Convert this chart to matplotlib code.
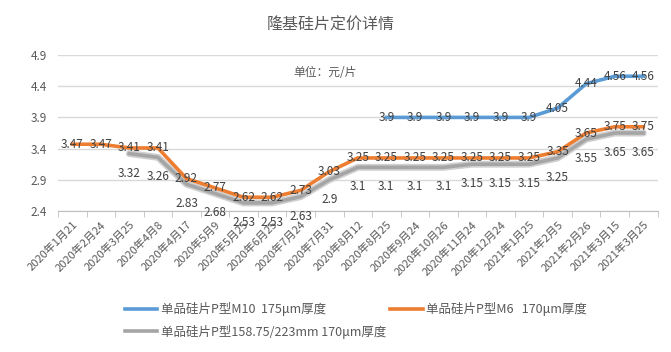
import matplotlib.pyplot as plt
import numpy as np

plt.rcParams['font.family'] = ['Noto Sans CJK SC', 'DejaVu Sans']

# data
dates = ['2020年1月21', '2020年2月24', '2020年3月25', '2020年4月8', '2020年4月17',
         '2020年5月9', '2020年5月25', '2020年6月25', '2020年7月24', '2020年7月31',
         '2020年8月12', '2020年8月25', '2020年9月24', '2020年10月26', '2020年11月24',
         '2020年12月24', '2021年1月25', '2021年2月5', '2021年2月26', '2021年3月15',
         '2021年3月25']
m10 = [None] * 11 + [3.9, 3.9, 3.9, 3.9, 3.9, 3.9, 4.05, 4.44, 4.56, 4.56]
m6 = [3.47, 3.47, 3.41, 3.41, 2.92, 2.77, 2.62, 2.62, 2.73, 3.03, 3.25,
      3.25, 3.25, 3.25, 3.25, 3.25, 3.25, 3.35, 3.65, 3.75, 3.75]
g1 = [None] * 2 + [3.32, 3.26, 2.83, 2.68, 2.53, 2.53, 2.63, 2.9, 3.1,
                   3.1, 3.1, 3.1, 3.15, 3.15, 3.15, 3.25, 3.55, 3.65, 3.65]

names = ['单品硅片P型M10  175μm厚度', '单品硅片P型M6   170μm厚度',
         '单品硅片P型158.75/223mm 170μm厚度']
colors = ['#5B9BD5', '#ED7D31', '#A5A5A5']

fig = plt.figure(figsize=(6.71, 3.52), dpi=100)
ax = fig.add_axes([0.0864, 0.4006, 0.8936, 0.4431])

x = np.arange(len(dates))

def series(vals):
    xs = [i for i, v in enumerate(vals) if v is not None]
    ys = [v for v in vals if v is not None]
    return xs, ys

# gray line with soft shadow
gx, gy = series(g1)
ax.plot(gx, gy, color='#d0d0d0', lw=5, solid_capstyle='round', zorder=2)
ax.plot(gx, gy, color=colors[2], lw=2.6, zorder=3, label=names[2])
ox, oy = series(m6)
ax.plot(ox, oy, color=colors[1], lw=2.6, zorder=4, label=names[1])
bx, by = series(m10)
ax.plot(bx, by, color=colors[0], lw=2.6, zorder=4, label=names[0])

lab = dict(fontsize=8.5, color='#404040', ha='center', zorder=6)
for xi, v in zip(bx, by):
    ax.text(xi, v, f'{v:g}', va='center', **lab)
for xi, v in zip(ox, oy):
    ax.text(xi, v, f'{v:g}', va='center', **lab)
for xi, v in zip(gx, gy):
    ax.annotate(f'{v:g}', (xi, v), xytext=(0, -14), textcoords='offset points',
                va='center', annotation_clip=False, **lab)

ax.set_xlim(-0.5, len(dates) - 0.5)
ax.set_ylim(2.4, 4.9)
ax.set_yticks([2.4, 2.9, 3.4, 3.9, 4.4, 4.9])
ax.set_yticklabels(['2.4', '2.9', '3.4', '3.9', '4.4', '4.9'])
ax.yaxis.grid(True, color='#d9d9d9', lw=1)
ax.set_axisbelow(True)
for s in ['left', 'right', 'top']:
    ax.spines[s].set_visible(False)
ax.spines['bottom'].set_color('#bfbfbf')
ax.tick_params(axis='y', length=0, labelsize=8.5, labelcolor='#595959', pad=8)

ax.set_xticks(x)
ax.set_xticklabels(dates, rotation=45, ha='right', rotation_mode='anchor',
                   fontsize=8, color='#595959')
ax.tick_params(axis='x', length=0, pad=6)
ax.set_xticks(np.arange(-0.5, len(dates)), minor=True)
ax.tick_params(axis='x', which='minor', length=4, color='#bfbfbf')

fig.text(0.493, 0.929, '隆基硅片定价详情', ha='center', va='center',
         fontsize=11.5, color='#595959')
ax.text(0.445, 0.89, '单位：元/片', transform=ax.transAxes, ha='center',
        va='center', fontsize=8.5, color='#595959')

h, l = ax.get_legend_handles_labels()
order = [2, 0, 1]
fig.legend([h[i] for i in order], [l[i] for i in order], ncol=2,
           loc='upper left', bbox_to_anchor=(0.186, 0.142), frameon=False,
           borderpad=0, borderaxespad=0,
           fontsize=9, handlelength=2.6, handletextpad=0.3, columnspacing=0.3,
           labelcolor='#595959', labelspacing=0.7)

fig.savefig('out.png', dpi=100, facecolor='white')
